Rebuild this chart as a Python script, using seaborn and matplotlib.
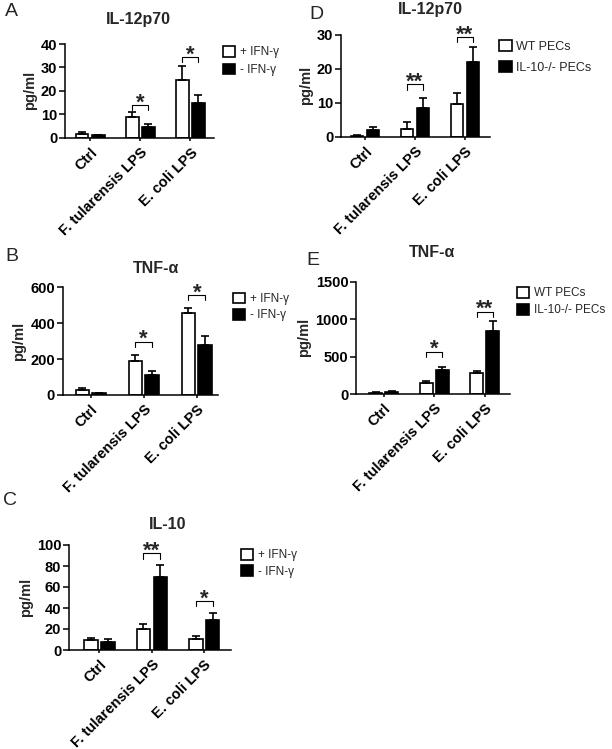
import numpy as np
import pandas as pd
import matplotlib
matplotlib.use("Agg")
import matplotlib.pyplot as plt
import seaborn as sns

sns.set_theme(style="ticks")
plt.rcParams['font.family'] = ['Liberation Sans', 'DejaVu Sans']
plt.rcParams['axes.edgecolor'] = 'black'
plt.rcParams['xtick.color'] = 'black'
plt.rcParams['ytick.color'] = 'black'

# 공통 데이터
categories = ['Ctrl', 'F. tularensis LPS', 'E. coli LPS']
ifn_groups = ['+ IFN-γ', '- IFN-γ']
pec_groups = ['WT PECs', 'IL-10-/- PECs']

# A: IL-12p70 (+/- IFN-γ)
a_mean = [[1.4, 8.7, 24.8], [1.1, 4.7, 14.9]]
a_sem = [[1.2, 2.1, 5.8], [0.2, 1.0, 3.4]]
a_sig = [(1, '*', 13.9), (2, '*', 34.5)]

# B: TNF-α (+/- IFN-γ)
b_mean = [[26, 188, 455], [9, 113, 277]]
b_sem = [[11, 35, 32], [4, 22, 54]]
b_sig = [(1, '*', 297), (2, '*', 557)]

# C: IL-10 (+/- IFN-γ)
c_mean = [[9.5, 19.7, 10.2], [7.6, 69.8, 28.6]]
c_sem = [[2.2, 4.7, 3.1], [2.9, 11.2, 6.3]]
c_sig = [(1, '**', 92), (2, '*', 46.7)]

# D: IL-12p70 (WT vs IL-10-/-)
d_mean = [[0.3, 2.2, 9.5], [1.9, 8.4, 22.1]]
d_sem = [[0.1, 2.0, 3.3], [1.1, 3.1, 4.4]]
d_sig = [(1, '**', 15.4), (2, '**', 29.3)]

# E: TNF-α (WT vs IL-10-/-)
e_mean = [[13, 142, 276], [27, 320, 841]]
e_sem = [[9, 27, 36], [9, 45, 138]]
e_sig = [(1, '*', 565), (2, '**', 1099)]

W, H = 612, 749
fig = plt.figure(figsize=(W / 100, H / 100), dpi=100)


def draw_panel(letter, title, groups, mean, sem, sig, ymax, ystep,
               box, xlim, title_xy, letter_xy, legend_xy, legend_space, legend_size):
    left, top, right, bottom = box
    ax = fig.add_axes([left / W, 1 - bottom / H, (right - left) / W, (bottom - top) / H])

    df = pd.DataFrame({
        'Category': categories * 2,
        'Group': [g for g in groups for _ in categories],
        'Value': mean[0] + mean[1],
    })
    sns.barplot(data=df, x='Category', y='Value', hue='Group', order=categories,
                hue_order=groups, palette=['white', 'black'], saturation=1,
                edgecolor='black', linewidth=1.2, width=0.64, gap=0.2,
                errorbar=None, legend=False, ax=ax)

    # 위쪽 방향 오차 막대만 표시
    for cont, err in zip(ax.containers, sem):
        xs = [b.get_x() + b.get_width() / 2 for b in cont]
        ys = [b.get_height() for b in cont]
        ax.errorbar(xs, ys, yerr=[np.zeros(len(err)), err], fmt='none',
                    ecolor='black', elinewidth=1.2, capsize=3.2, capthick=1.2,
                    zorder=1)

    # 유의성 표시
    arm = 0.05 * ymax
    for idx, label, y in sig:
        b1 = ax.containers[0][idx]
        b2 = ax.containers[1][idx]
        x1 = b1.get_x() + b1.get_width() / 2
        x2 = b2.get_x() + b2.get_width() / 2
        ax.plot([x1, x1, x2, x2], [y - arm, y, y, y - arm], color='black',
                lw=0.8, clip_on=False)
        ax.annotate(label, xy=((x1 + x2) / 2, y), xytext=(0, -2.5),
                    textcoords='offset points', ha='center', va='baseline',
                    fontsize=16, fontweight='bold', annotation_clip=False)

    ax.set_ylim(0, ymax)
    ax.set_yticks(np.arange(0, ymax + 1, ystep))
    ax.set_xlim(*xlim)
    ax.set_xticks(range(len(categories)))
    ax.set_xticklabels(categories, rotation=45, ha='right', va='top',
                       rotation_mode='anchor', fontweight='bold', fontsize=10.5)
    for t in ax.get_yticklabels():
        t.set_fontweight('bold')
        t.set_fontsize(10.5)
    ax.tick_params(axis='y', length=4, width=1.1, pad=1.5)
    ax.tick_params(axis='x', length=2.5, width=1.1, pad=3)
    ax.set_xlabel('')
    ax.set_ylabel('pg/ml', fontsize=10.5, fontweight='bold', labelpad=3)
    sns.despine(ax=ax)
    for s in ['left', 'bottom']:
        ax.spines[s].set_linewidth(1.1)

    ax.legend(handles=list(ax.containers), labels=groups, loc='upper left',
              bbox_to_anchor=(legend_xy[0] / W, 1 - legend_xy[1] / H),
              bbox_transform=fig.transFigure, frameon=False, borderpad=0,
              borderaxespad=0, handlelength=1.0, handleheight=1.0,
              handletextpad=0.4, labelspacing=legend_space,
              prop={'size': legend_size, 'weight': 'normal'})

    fig.text(title_xy[0] / W, 1 - title_xy[1] / H, title, ha='center',
             va='baseline', fontsize=11.5, fontweight='bold')
    fig.text(letter_xy[0] / W, 1 - letter_xy[1] / H, letter, ha='left',
             va='baseline', fontsize=14)
    return ax


draw_panel('A', 'IL-12p70', ifn_groups, a_mean, a_sem, a_sig, 40, 10,
           (65, 44, 214, 137.7), (-0.5, 2.47), (138, 24), (5, 16), (223, 46), 0.45, 8.5)
draw_panel('B', 'TNF-α', ifn_groups, b_mean, b_sem, b_sig, 600, 200,
           (62.7, 287.3, 218, 395), (-0.53, 2.4), (156, 273), (5, 261), (233, 292.5), 0.35, 8.5)
draw_panel('C', 'IL-10', ifn_groups, c_mean, c_sem, c_sig, 100, 20,
           (69, 545, 231, 650), (-0.58, 2.51), (167.5, 529), (3, 505), (241, 549), 0.35, 8.5)
draw_panel('D', 'IL-12p70', pec_groups, d_mean, d_sem, d_sig, 30, 10,
           (341, 35, 490, 136.7), (-0.48, 2.5), (430, 14), (309, 19), (499, 40), 0.65, 9)
draw_panel('E', 'TNF-α', pec_groups, e_mean, e_sem, e_sig, 1500, 500,
           (356, 281.7, 510, 394), (-0.55, 2.5), (432, 257), (306, 265), (517, 287), 0.4, 8.5)

plt.savefig('out.png', dpi=100)
